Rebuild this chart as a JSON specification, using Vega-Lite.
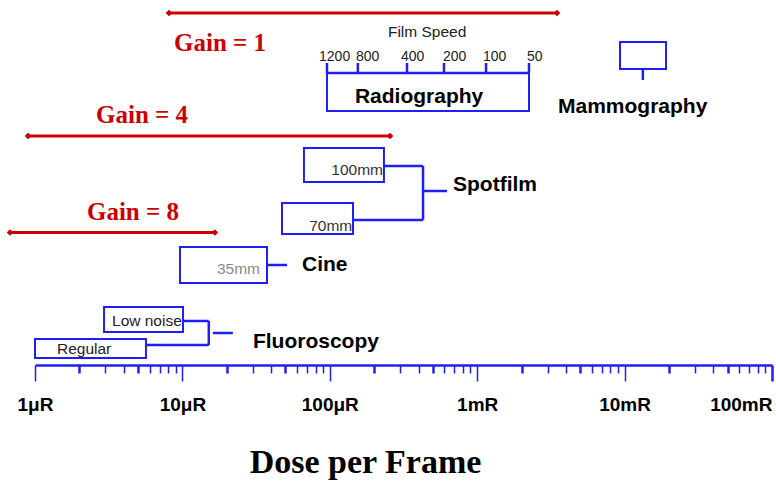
{
 "$schema": "https://vega.github.io/schema/vega-lite/v6.json",
 "width": 737, "height": 365,
 "autosize": {"type": "none"},
 "padding": {"left": 35, "top": 0, "right": 4, "bottom": 117},
 "background": "white",
 "config": {"view": {"stroke": null}},
 "datasets": {
  "gains": [
   {"label": "Gain = 1", "lo": 8.11, "hi": 3478, "h": 352, "tx": 18.0, "th": 322},
   {"label": "Gain = 4", "lo": 0.897, "hi": 256, "h": 229, "tx": 5.32, "th": 250},
   {"label": "Gain = 8", "lo": 0.677, "hi": 16.6, "h": 132.5, "tx": 4.62, "th": 153}
  ],
  "boxes": [
   {"name": "Radiography", "x1": 95.7, "x2": 2246, "top": 292, "bottom": 254},
   {"name": "Mammography", "x1": 9310, "x2": 19100, "top": 323, "bottom": 296},
   {"name": "100mm", "x1": 66.8, "x2": 233, "top": 217, "bottom": 183},
   {"name": "70mm", "x1": 47.4, "x2": 143.7, "top": 162, "bottom": 131},
   {"name": "35mm", "x1": 9.63, "x2": 37.5, "top": 118, "bottom": 82},
   {"name": "Low noise", "x1": 2.94, "x2": 10.1, "top": 58, "bottom": 33},
   {"name": "Regular", "x1": 1, "x2": 5.66, "top": 26, "bottom": 7}
  ],
  "links": [
   {"x1": 95.7, "x2": 2246, "h1": 292, "h2": 292},
   {"x1": 95.7, "x2": 95.7, "h1": 292, "h2": 302},
   {"x1": 155, "x2": 155, "h1": 292, "h2": 302},
   {"x1": 334, "x2": 334, "h1": 292, "h2": 302},
   {"x1": 595, "x2": 595, "h1": 292, "h2": 302},
   {"x1": 1148, "x2": 1148, "h1": 292, "h2": 302},
   {"x1": 2246, "x2": 2246, "h1": 292, "h2": 302},
   {"x1": 13300, "x2": 13300, "h1": 296, "h2": 285},
   {"x1": 233, "x2": 429, "h1": 199, "h2": 199},
   {"x1": 429, "x2": 429, "h1": 199, "h2": 145},
   {"x1": 143.7, "x2": 429, "h1": 145, "h2": 145},
   {"x1": 429, "x2": 624, "h1": 174, "h2": 174},
   {"x1": 37.5, "x2": 51.3, "h1": 100, "h2": 100},
   {"x1": 10.1, "x2": 15.1, "h1": 44, "h2": 44},
   {"x1": 15.1, "x2": 15.1, "h1": 44, "h2": 20},
   {"x1": 5.66, "x2": 15.1, "h1": 20, "h2": 20},
   {"x1": 16.1, "x2": 22.0, "h1": 32, "h2": 32}
  ],
  "bigLabels": [
   {"text": "Radiography", "x": 148, "h": 268},
   {"text": "Mammography", "x": 3533, "h": 258},
   {"text": "Spotfilm", "x": 685, "h": 180},
   {"text": "Cine", "x": 64.8, "h": 100},
   {"text": "Fluoroscopy", "x": 30.1, "h": 23}
  ],
  "smallLeft": [
   {"text": "Film Speed", "x": 248, "h": 333},
   {"text": "Low noise", "x": 3.33, "h": 44},
   {"text": "Regular", "x": 1.41, "h": 16}
  ],
  "speeds": [
   {"text": "1200", "x": 84.5, "h": 308},
   {"text": "800", "x": 150.6, "h": 308},
   {"text": "400", "x": 304, "h": 308},
   {"text": "200", "x": 586, "h": 308},
   {"text": "100", "x": 1095, "h": 308},
   {"text": "50", "x": 2178, "h": 308}
  ],
  "smallRight": [
   {"text": "100mm", "x": 229.6, "h": 195, "tone": "dark"},
   {"text": "70mm", "x": 142, "h": 139, "tone": "dark"},
   {"text": "35mm", "x": 33.6, "h": 96, "tone": "light"}
  ]
 },
 "layer": [
  {
   "data": {"name": "boxes"},
   "mark": {"type": "rect", "fillOpacity": 0, "stroke": "#1f1ff5", "strokeWidth": 2},
   "encoding": {
    "x": {"field": "x1", "type": "quantitative",
     "scale": {"type": "log", "domain": [1, 100000]},
     "axis": {
      "title": "Dose per Frame",
      "values": [1,2,3,4,5,6,7,8,9,10,20,30,40,50,60,70,80,90,100,200,300,400,500,600,700,800,900,1000,2000,3000,4000,5000,6000,7000,8000,9000,10000,20000,30000,40000,50000,60000,70000,80000,90000,100000],
      "labelExpr": "datum.value==1?'1μR':datum.value==10?'10μR':datum.value==100?'100μR':datum.value==1000?'1mR':datum.value==10000?'10mR':datum.value==100000?'100mR':''",
      "labelOverlap": false,
      "labelFlush": false,
      "labelFont": "Liberation Sans", "labelFontWeight": "bold", "labelFontSize": 19, "labelColor": "black",
      "labelAlign": {"condition": {"test": "datum.value>=100000", "value": "right"}, "value": "center"},
      "labelBaseline": "alphabetic", "labelPadding": 29,
      "domainColor": "#1f1ff5", "domainWidth": 2.5,
      "tickColor": "#1f1ff5",
      "tickSize": {"condition": {"test": "indexof([1,10,100,1000,10000,100000], datum.value) >= 0", "value": 16}, "value": 8},
      "tickWidth": {"condition": {"test": "indexof([2,5,20,50,200,500,2000,5000,20000,50000,100000], datum.value) >= 0", "value": 2.5}, "value": 1.5},
      "grid": false,
      "titleFont": "Liberation Serif", "titleFontSize": 34, "titleFontWeight": "bold", "titleColor": "black",
      "titleX": 330, "titleY": 107, "titleBaseline": "alphabetic", "titleAlign": "center"
     }},
    "x2": {"field": "x2"},
    "y": {"field": "top", "type": "quantitative", "scale": {"domain": [0, 365], "nice": false, "zero": false}, "axis": null},
    "y2": {"field": "bottom"}
   }
  },
  {
   "data": {"name": "links"},
   "mark": {"type": "rule", "stroke": "#1f1ff5", "strokeWidth": 2.5},
   "encoding": {
    "x": {"field": "x1", "type": "quantitative", "scale": {"type": "log", "domain": [1, 100000]}},
    "x2": {"field": "x2"},
    "y": {"field": "h1", "type": "quantitative", "scale": {"domain": [0, 365], "nice": false, "zero": false}, "axis": null},
    "y2": {"field": "h2"}
   }
  },
  {
   "data": {"name": "gains"},
   "mark": {"type": "rule", "stroke": "#cc0000", "strokeWidth": 3},
   "encoding": {
    "x": {"field": "lo", "type": "quantitative", "scale": {"type": "log", "domain": [1, 100000]}},
    "x2": {"field": "hi"},
    "y": {"field": "h", "type": "quantitative", "scale": {"domain": [0, 365], "nice": false, "zero": false}, "axis": null}
   }
  },
  {
   "data": {"name": "gains"},
   "transform": [{"fold": ["lo", "hi"], "as": ["end", "xv"]}],
   "mark": {"type": "point", "shape": "diamond", "filled": true, "color": "#cc0000", "size": 45, "opacity": 1},
   "encoding": {
    "x": {"field": "xv", "type": "quantitative", "scale": {"type": "log", "domain": [1, 100000]}},
    "y": {"field": "h", "type": "quantitative", "scale": {"domain": [0, 365], "nice": false, "zero": false}, "axis": null}
   }
  },
  {
   "data": {"name": "gains"},
   "mark": {"type": "text", "font": "Liberation Serif", "fontWeight": "bold", "fontSize": 25, "color": "#cc0000", "align": "center", "baseline": "middle"},
   "encoding": {
    "x": {"field": "tx", "type": "quantitative", "scale": {"type": "log", "domain": [1, 100000]}},
    "y": {"field": "th", "type": "quantitative", "scale": {"domain": [0, 365], "nice": false, "zero": false}, "axis": null},
    "text": {"field": "label"}
   }
  },
  {
   "data": {"name": "bigLabels"},
   "mark": {"type": "text", "font": "Liberation Sans", "fontWeight": "bold", "fontSize": 21, "color": "black", "align": "left", "baseline": "middle"},
   "encoding": {
    "x": {"field": "x", "type": "quantitative", "scale": {"type": "log", "domain": [1, 100000]}},
    "y": {"field": "h", "type": "quantitative", "scale": {"domain": [0, 365], "nice": false, "zero": false}, "axis": null},
    "text": {"field": "text"}
   }
  },
  {
   "data": {"name": "smallLeft"},
   "mark": {"type": "text", "font": "Liberation Sans", "fontSize": 15.5, "color": "#222222", "align": "left", "baseline": "middle"},
   "encoding": {
    "x": {"field": "x", "type": "quantitative", "scale": {"type": "log", "domain": [1, 100000]}},
    "y": {"field": "h", "type": "quantitative", "scale": {"domain": [0, 365], "nice": false, "zero": false}, "axis": null},
    "text": {"field": "text"}
   }
  },
  {
   "data": {"name": "speeds"},
   "mark": {"type": "text", "font": "Liberation Sans", "fontSize": 14, "color": "#222222", "align": "left", "baseline": "middle"},
   "encoding": {
    "x": {"field": "x", "type": "quantitative", "scale": {"type": "log", "domain": [1, 100000]}},
    "y": {"field": "h", "type": "quantitative", "scale": {"domain": [0, 365], "nice": false, "zero": false}, "axis": null},
    "text": {"field": "text"}
   }
  },
  {
   "data": {"name": "smallRight"},
   "mark": {"type": "text", "font": "Liberation Sans", "fontSize": 15.5, "align": "right", "baseline": "middle"},
   "encoding": {
    "x": {"field": "x", "type": "quantitative", "scale": {"type": "log", "domain": [1, 100000]}},
    "y": {"field": "h", "type": "quantitative", "scale": {"domain": [0, 365], "nice": false, "zero": false}, "axis": null},
    "text": {"field": "text"},
    "color": {"field": "tone", "type": "nominal", "scale": {"domain": ["dark", "light"], "range": ["#333333", "#8a8a8a"]}, "legend": null}
   }
  }
 ]
}
